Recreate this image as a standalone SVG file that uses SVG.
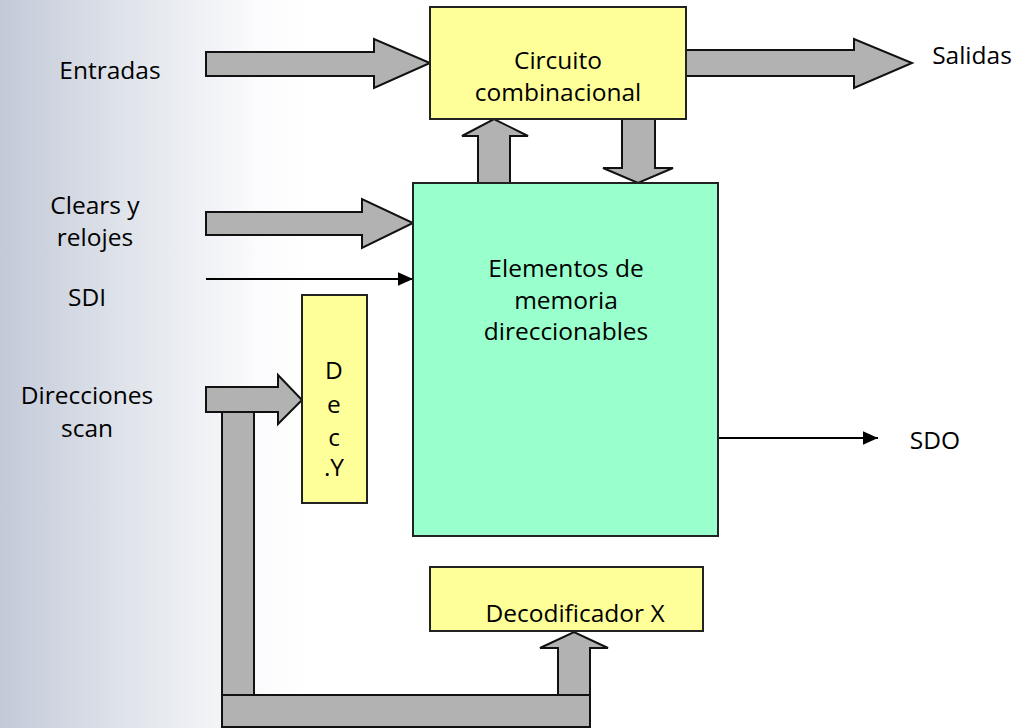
<svg xmlns="http://www.w3.org/2000/svg" width="1028" height="728" viewBox="0 0 1028 728">
  <defs>
    <linearGradient id="bg" x1="0" y1="0" x2="1" y2="0">
      <stop offset="0" stop-color="#c3cad8"/>
      <stop offset="0.12" stop-color="#dfe3ea"/>
      <stop offset="0.25" stop-color="#fbfbfd"/>
      <stop offset="0.3" stop-color="#ffffff"/>
    </linearGradient>
    <marker id="tri" viewBox="0 0 10 10" refX="10" refY="5" markerWidth="15" markerHeight="15" markerUnits="userSpaceOnUse" orient="auto">
      <path d="M0,0.5 L10,5 L0,9.5 z" fill="#000"/>
    </marker>
    <style>
      text { font-family: "Comic Sans MS", "Open Sans", "DejaVu Sans", sans-serif; font-size: 24.5px; fill: #000; text-anchor: middle; dominant-baseline: central; }
      .yellow { fill: #ffff99; stroke: #222; stroke-width: 2; }
      .green { fill: #99ffcc; stroke: #222; stroke-width: 2; }
      .bus { fill: #b2b2b2; stroke: #111; stroke-width: 2; stroke-linejoin: miter; }
      .wire { stroke: #000; stroke-width: 2; fill: none; marker-end: url(#tri); }
    </style>
  </defs>

  <rect x="0" y="0" width="1028" height="728" fill="url(#bg)"/>

  <!-- buses and signal lines -->
  <g id="connectors">
    <!-- Entradas -> Circuito combinacional -->
    <path class="bus" d="M206,52 H374 V39 L430,63 L374,88 V76 H206 Z"/>
    <!-- Circuito combinacional -> Salidas -->
    <path class="bus" d="M686,50 H854 V39 L912,63 L854,88 V76 H686 Z"/>
    <!-- memory -> combinational (up) -->
    <path class="bus" d="M478,183 V136 H462 L494,119 L528,136 H510 V183 Z"/>
    <!-- combinational -> memory (down) -->
    <path class="bus" d="M622,119 V168 H603 L638,183 L673,168 H655 V119 Z"/>
    <!-- Clears y relojes -> memory -->
    <path class="bus" d="M206,212 H362 V199 L413,223 L362,248 V235 H206 Z"/>
    <!-- Direcciones scan -> Dec.Y -->
    <path class="bus" d="M206,387 H278 V375 L302,400 L278,424 V412 H206 Z"/>
    <!-- address bus down and across to Decodificador X -->
    <rect class="bus" x="222" y="412" width="32" height="283"/>
    <rect class="bus" x="222" y="695" width="368" height="32"/>
    <path class="bus" d="M558,695 V648 H540 L574,632 L608,648 H590 V695 Z"/>
    <!-- serial data in / out -->
    <line class="wire" x1="206" y1="279" x2="413" y2="279"/>
    <line class="wire" x1="718" y1="438" x2="878" y2="438"/>
  </g>

  <g id="circuito">
    <rect class="yellow" x="430" y="7" width="256" height="112"/>
    <text x="558" y="59">Circuito</text>
    <text x="558" y="91">combinacional</text>
  </g>

  <g id="memoria">
    <rect class="green" x="413" y="183" width="305" height="353"/>
    <text x="566" y="267">Elementos de</text>
    <text x="566" y="299">memoria</text>
    <text x="566" y="330">direccionables</text>
  </g>

  <g id="decY">
    <rect class="yellow" x="302" y="295" width="65" height="208"/>
    <!-- vertical label, one letter per line -->
    <text x="334" y="369">D<tspan x="334" y="403">e</tspan><tspan x="334" y="436">c</tspan><tspan x="334" y="466">.Y</tspan></text>
  </g>

  <g id="decX">
    <rect class="yellow" x="430" y="567" width="273" height="64"/>
    <text x="575" y="612">Decodificador X</text>
  </g>

  <g id="labels">
    <text x="110" y="69">Entradas</text>
    <text x="972" y="54">Salidas</text>
    <text x="95" y="204">Clears y</text>
    <text x="95" y="236">relojes</text>
    <text x="87" y="296">SDI</text>
    <text x="87" y="394">Direcciones</text>
    <text x="87" y="427">scan</text>
    <text x="935" y="439">SDO</text>
  </g>
</svg>
